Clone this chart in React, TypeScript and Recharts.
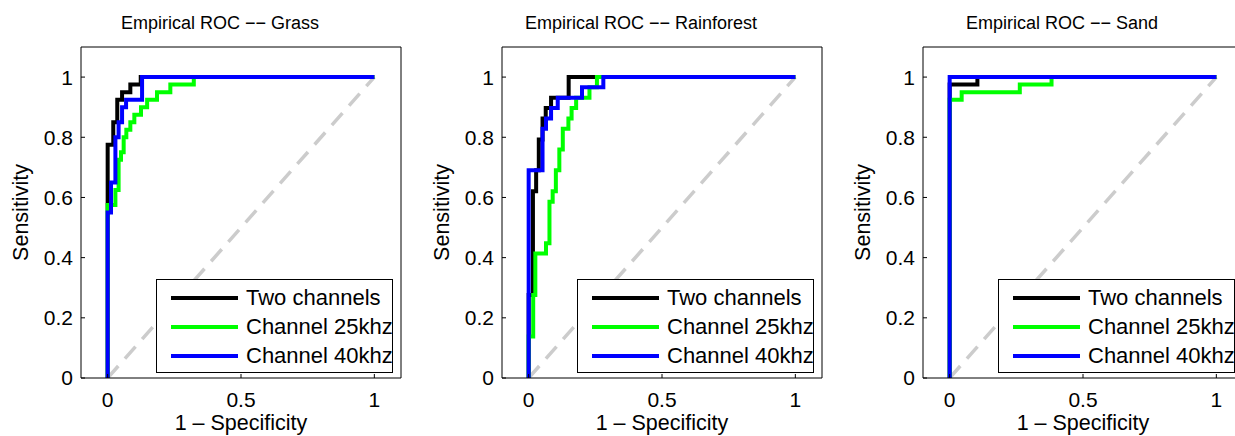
import { Legend, Line, LineChart, XAxis, YAxis } from "recharts";

const FONT = "'Liberation Sans', Arial, Helvetica, sans-serif";

type Pt = [number, number];

const titles = [
  "Empirical ROC −− Grass",
  "Empirical ROC −− Rainforest",
  "Empirical ROC −− Sand",
];
const seriesNames = ["Two channels", "Channel 25khz", "Channel 40khz"];
const seriesColors = ["#000000", "#00ff00", "#0000ff"];
const xTicks = [0, 0.5, 1];
const yTicks = [0, 0.2, 0.4, 0.6, 0.8, 1];
const chance: Pt[] = [[0, 0], [1, 1]];

// ROC staircases as (1 - specificity, sensitivity) corners
const grassTwo: Pt[] = [
  [0, 0], [0, 0.775], [0.021, 0.775], [0.021, 0.85], [0.036, 0.85], [0.036, 0.925],
  [0.054, 0.925], [0.054, 0.95], [0.085, 0.95], [0.085, 0.975], [0.124, 0.975], [0.124, 1], [1, 1],
];
const grass25: Pt[] = [
  [0, 0], [0, 0.575], [0.029, 0.575], [0.029, 0.625], [0.041, 0.625], [0.041, 0.725],
  [0.05, 0.725], [0.05, 0.75], [0.06, 0.75], [0.06, 0.8], [0.07, 0.8], [0.07, 0.825],
  [0.085, 0.825], [0.085, 0.85], [0.1, 0.85], [0.1, 0.875], [0.125, 0.875], [0.125, 0.9],
  [0.148, 0.9], [0.148, 0.925], [0.185, 0.925], [0.185, 0.95], [0.235, 0.95], [0.235, 0.975],
  [0.323, 0.975], [0.323, 1], [1, 1],
];
const grass40: Pt[] = [
  [0, 0], [0, 0.55], [0.0125, 0.55], [0.0125, 0.65], [0.029, 0.65], [0.029, 0.8],
  [0.041, 0.8], [0.041, 0.85], [0.054, 0.85], [0.054, 0.9], [0.069, 0.9], [0.069, 0.925],
  [0.129, 0.925], [0.129, 1], [1, 1],
];

const rainTwo: Pt[] = [
  [0, 0], [0, 0.276], [0.016, 0.276], [0.016, 0.621], [0.028, 0.621], [0.028, 0.69],
  [0.038, 0.69], [0.038, 0.793], [0.052, 0.793], [0.052, 0.862], [0.064, 0.862], [0.064, 0.897],
  [0.084, 0.897], [0.084, 0.931], [0.15, 0.931], [0.15, 1], [1, 1],
];
const rain25: Pt[] = [
  [0, 0], [0, 0.138], [0.017, 0.138], [0.017, 0.276], [0.025, 0.276], [0.025, 0.414],
  [0.065, 0.414], [0.065, 0.448], [0.078, 0.448], [0.078, 0.586], [0.09, 0.586], [0.09, 0.621],
  [0.102, 0.621], [0.102, 0.69], [0.115, 0.69], [0.115, 0.759], [0.128, 0.759], [0.128, 0.828],
  [0.149, 0.828], [0.149, 0.862], [0.161, 0.862], [0.161, 0.897], [0.178, 0.897], [0.178, 0.931],
  [0.228, 0.931], [0.228, 0.966], [0.256, 0.966], [0.256, 1], [1, 1],
];
const rain40: Pt[] = [
  [0, 0], [0, 0.69], [0.052, 0.69], [0.052, 0.828], [0.065, 0.828], [0.065, 0.862],
  [0.084, 0.862], [0.084, 0.897], [0.109, 0.897], [0.109, 0.931], [0.2, 0.931], [0.2, 0.966],
  [0.28, 0.966], [0.28, 1], [1, 1],
];

const sandTwo: Pt[] = [[0, 0], [0, 0.975], [0.104, 0.975], [0.104, 1], [1, 1]];
const sand25: Pt[] = [
  [0, 0], [0, 0.925], [0.045, 0.925], [0.045, 0.95], [0.263, 0.95], [0.263, 0.975],
  [0.382, 0.975], [0.382, 1], [1, 1],
];
const sand40: Pt[] = [[0, 0], [0, 1], [1, 1]];

const panels = [
  { title: titles[0], curves: [grassTwo, grass25, grass40] },
  { title: titles[1], curves: [rainTwo, rain25, rain40] },
  { title: titles[2], curves: [sandTwo, sand25, sand40] },
];

const toRows = (pts: Pt[]) => pts.map(([x, y]) => ({ x, y }));

const tickStyle = { fill: "#000", fontSize: 21, fontFamily: FONT };
const labelStyle = { fill: "#000", fontSize: 21.5, fontFamily: FONT };

function LegendBox(props: any) {
  const items = (props.payload || [])
    .filter((p: any) => p.type !== "none")
    .slice()
    .sort((a: any, b: any) => seriesNames.indexOf(a.value) - seriesNames.indexOf(b.value));
  return (
    <div
      style={{
        position: "relative",
        width: 237,
        height: 94,
        boxSizing: "border-box",
        border: "1px solid #000",
        background: "#fff",
        fontFamily: FONT,
        fontSize: 22,
      }}
    >
      {items.map((it: any, i: number) => (
        <div key={it.value} style={{ position: "absolute", left: 0, top: 4 + i * 29, height: 28, width: 260 }}>
          <div
            style={{
              position: "absolute",
              left: 14,
              top: 12,
              width: 67,
              height: 4,
              background: it.color,
            }}
          />
          <div style={{ position: "absolute", left: 89, top: 1, lineHeight: "26px", whiteSpace: "nowrap", color: "#000" }}>
            {it.value}
          </div>
        </div>
      ))}
    </div>
  );
}

function RocPanel({ title, curves, left }: { title: string; curves: Pt[][]; left: number }) {
  return (
    <div style={{ position: "absolute", left, top: 0, width: 420, height: 436 }}>
      <LineChart width={420} height={436} margin={{ top: 0, right: 0, bottom: 0, left: 0 }}>
        <XAxis
          xAxisId="b"
          type="number"
          dataKey="x"
          domain={[-0.1, 1.1]}
          ticks={xTicks}
          allowDataOverflow
          height={58}
          stroke="#000"
          tickSize={-4}
          tickMargin={18}
          tick={tickStyle}
          label={{ value: "1 – Specificity", position: "insideBottom", offset: 6, style: labelStyle }}
        />
        <XAxis
          xAxisId="t"
          orientation="top"
          type="number"
          dataKey="x"
          domain={[-0.1, 1.1]}
          ticks={xTicks}
          allowDataOverflow
          height={47}
          stroke="#000"
          tickSize={-4}
          tick={false}
        />
        <YAxis
          yAxisId="l"
          type="number"
          domain={[0, 1.1]}
          ticks={yTicks}
          allowDataOverflow
          width={81}
          stroke="#000"
          tickSize={-4}
          tickMargin={12}
          tick={tickStyle}
          label={{
            value: "Sensitivity",
            angle: -90,
            position: "insideLeft",
            offset: 20,
            style: { ...labelStyle, textAnchor: "middle" },
          }}
        />
        <YAxis
          yAxisId="r"
          orientation="right"
          type="number"
          domain={[0, 1.1]}
          ticks={yTicks}
          allowDataOverflow
          width={19}
          stroke="#000"
          tickSize={-4}
          tick={false}
        />
        <Line
          data={toRows(chance)}
          xAxisId="b"
          yAxisId="l"
          dataKey="y"
          stroke="#cccccc"
          strokeWidth={3.5}
          strokeDasharray="16 10"
          dot={false}
          legendType="none"
          isAnimationActive={false}
        />
        {curves.map((c, i) => (
          <Line
            key={seriesNames[i]}
            name={seriesNames[i]}
            data={toRows(c)}
            xAxisId="b"
            yAxisId="l"
            dataKey="y"
            stroke={seriesColors[i]}
            strokeWidth={4}
            dot={false}
            legendType="line"
            isAnimationActive={false}
          />
        ))}
        <Legend
          layout="vertical"
          align="center"
          verticalAlign="middle"
          wrapperStyle={{ left: 156, top: 279, width: 237, height: 94 }}
          content={LegendBox}
        />
      </LineChart>
      <div
        style={{
          position: "absolute",
          left: 20,
          width: 400,
          top: 13,
          textAlign: "center",
          fontFamily: FONT,
          fontSize: 18,
          lineHeight: "20px",
          color: "#000",
          whiteSpace: "nowrap",
        }}
      >
        {title}
      </div>
    </div>
  );
}

export default function App() {
  return (
    <div
      style={{
        position: "absolute",
        left: 0,
        top: 0,
        width: 1235,
        height: 436,
        overflow: "hidden",
        background: "#fff",
      }}
    >
      {panels.map((p, i) => (
        <RocPanel key={p.title} title={p.title} curves={p.curves} left={i * 421} />
      ))}
    </div>
  );
}
